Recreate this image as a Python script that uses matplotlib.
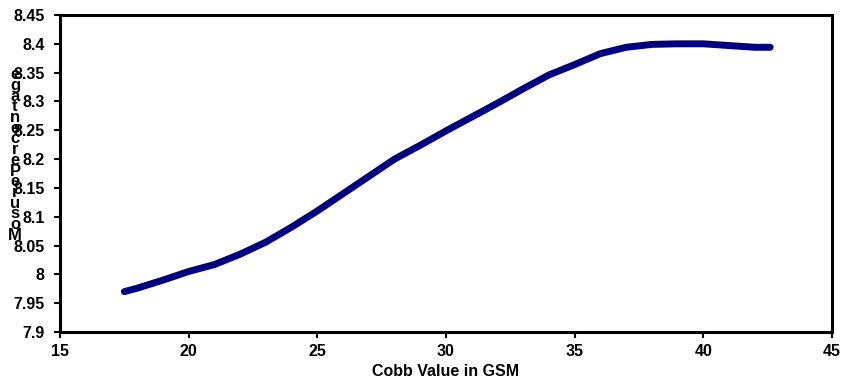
import matplotlib
matplotlib.use('Agg')
import matplotlib.pyplot as plt

plt.rcParams['font.family'] = ['Liberation Sans', 'DejaVu Sans']
plt.rcParams['font.weight'] = 'bold'

# values
cobb_gsm = [17.5, 18.0, 19.0, 20.0, 21.0, 22.0, 23.0, 24.0, 25.0, 26.0, 27.0, 28.0,
            29.0, 30.0, 31.0, 32.0, 33.0, 34.0, 35.0, 36.0, 37.0, 38.0, 39.0, 40.0,
            41.0, 42.0, 42.6]
moisture = [7.970, 7.976, 7.990, 8.005, 8.017, 8.035, 8.056, 8.082, 8.110, 8.140,
            8.170, 8.200, 8.224, 8.249, 8.273, 8.297, 8.322, 8.346, 8.364, 8.383,
            8.394, 8.399, 8.400, 8.400, 8.397, 8.394, 8.394]
x_ticks = [15, 20, 25, 30, 35, 40, 45]
y_ticks = [7.9, 7.95, 8.0, 8.05, 8.1, 8.15, 8.2, 8.25, 8.3, 8.35, 8.4, 8.45]
y_label_stack = list('egatnecrePerusoM')

fig = plt.figure(figsize=(8.51, 3.90), dpi=100)
ax = fig.add_axes([60 / 851, 1 - 332 / 390, (832 - 60) / 851, (332 - 15) / 390])

ax.plot(cobb_gsm, moisture, color='#000080', linewidth=5, solid_capstyle='round')

ax.set_xlim(15, 45)
ax.set_ylim(7.9, 8.45)
ax.set_xticks(x_ticks)
ax.set_xticklabels([str(t) for t in x_ticks])
ax.set_yticks(y_ticks)
ax.set_yticklabels([f'{t:g}' for t in y_ticks])
ax.tick_params(axis='both', labelsize=11.5, width=1.5, length=4, direction='out')
ax.tick_params(axis='y', pad=7)
ax.tick_params(axis='x', pad=5)
for side in ['left', 'bottom', 'right', 'top']:
    ax.spines[side].set_linewidth(2.2)
ax.set_xlabel('Cobb Value in GSM', fontsize=11.5, fontweight='bold', labelpad=3)

fig.text(15 / 851, 1 - 155 / 390, '\n'.join(y_label_stack), fontsize=12,
         fontweight='bold', ha='center', va='center', linespacing=0.64)

fig.savefig('out.png', dpi=100)
